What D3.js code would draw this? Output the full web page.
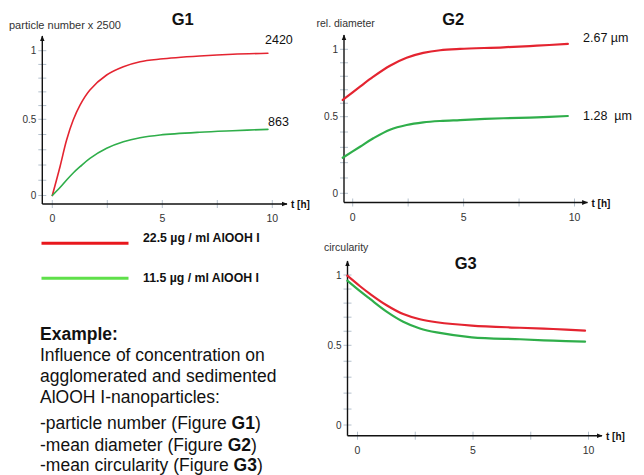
<!DOCTYPE html>
<html>
<head>
<meta charset="utf-8">
<script src="https://cdn.jsdelivr.net/npm/d3@7"></script>
<style>
  body { margin: 0; background: #fff; }
  text { font-family: "Liberation Sans", Arial, sans-serif; }
</style>
</head>
<body>
<div id="chart"></div>
<script>
// ---- data ----
var g1Time  = [0, 0.35, 0.65, 0.95, 1.26, 1.71, 2.47, 3.23, 3.99, 4.9, 6.7, 8.2, 9.8];
var g1Red   = [0, 0.189, 0.364, 0.495, 0.604, 0.714, 0.823, 0.883, 0.920, 0.939, 0.961, 0.974, 0.981];
var g1Green = [0, 0.052, 0.102, 0.148, 0.189, 0.244, 0.310, 0.353, 0.379, 0.397, 0.415, 0.425, 0.434];

var g2Time  = [-0.45, 0.33, 0.93, 1.68, 2.43, 3.18, 3.94, 4.84, 6.8, 8.3, 9.7];
var g2Red   = [0.624, 0.723, 0.797, 0.878, 0.937, 0.973, 0.993, 1.003, 1.015, 1.027, 1.04];
var g2Green = [0.232, 0.304, 0.359, 0.415, 0.446, 0.463, 0.472, 0.478, 0.490, 0.496, 0.505];

var g3Time  = [-0.44, 0.11, 0.54, 1.26, 1.98, 2.7, 3.43, 4.95, 7.03, 8.47, 9.85];
var g3Red   = [0.995, 0.92, 0.866, 0.785, 0.722, 0.685, 0.664, 0.64, 0.625, 0.616, 0.604];
var g3Green = [0.96, 0.885, 0.83, 0.74, 0.668, 0.62, 0.592, 0.557, 0.543, 0.533, 0.526];

var yTickLabels = [0, 0.5, 1];
var yMinorTicks = d3.range(0, 1.001, 0.1);
var xTickLabels = [0, 5, 10];
var xMinorTicks = [0, 2.5, 5, 7.5, 10];

var legendLabels = ["22.5 \u00b5g / ml AlOOH I", "11.5 \u00b5g / ml AlOOH I"];
var g1EndLabels = ["2420", "863"];
var g2EndLabels = ["2.67 \u00b5m", "1.28  \u00b5m"];

var RED = "#e42430", GREEN = "#2fae4a";

var svg = d3.select("#chart").append("svg")
    .attr("width", 644)
    .attr("height", 475);

svg.append("defs").append("marker")
    .attr("id", "arrow")
    .attr("viewBox", "0 0 10 10")
    .attr("refX", 9).attr("refY", 5)
    .attr("markerWidth", 6).attr("markerHeight", 6)
    .attr("markerUnits", "userSpaceOnUse")
    .attr("orient", "auto")
    .append("path")
    .attr("d", "M0,1 L10,5 L0,9 z")
    .attr("fill", "#111");

function drawPanel(p) {
    var x = d3.scaleLinear().domain([0, 10]).range([p.x0, p.x10]);
    var y = d3.scaleLinear().domain([0, 0.5, 1]).range([p.y0, p.y05, p.y1]);
    var g = svg.append("g");

    // minor ticks, drawn across the axis lines
    g.selectAll(".ytick").data(yMinorTicks).enter().append("line")
        .attr("x1", p.ax - 4).attr("x2", p.ax + 4)
        .attr("y1", d => y(d)).attr("y2", d => y(d))
        .attr("stroke", "#b4c0cc").attr("stroke-width", 1);
    g.selectAll(".xtick").data(xMinorTicks).enter().append("line")
        .attr("x1", d => x(d)).attr("x2", d => x(d))
        .attr("y1", p.ay - 4).attr("y2", p.ay + 4)
        .attr("stroke", "#b4c0cc").attr("stroke-width", 1);

    // axes with arrows
    g.append("line")
        .attr("x1", p.ax).attr("y1", p.ay).attr("x2", p.ax).attr("y2", p.yTop)
        .attr("stroke", "#111").attr("stroke-width", 1.4)
        .attr("marker-end", "url(#arrow)");
    g.append("line")
        .attr("x1", p.ax).attr("y1", p.ay).attr("x2", p.xEnd).attr("y2", p.ay)
        .attr("stroke", "#111").attr("stroke-width", 1.4)
        .attr("marker-end", "url(#arrow)");

    g.selectAll(".ylab").data(yTickLabels).enter().append("text")
        .attr("x", p.ax - 6).attr("y", d => y(d) + 3.5)
        .attr("text-anchor", "end")
        .attr("font-size", 10).attr("fill", "#333")
        .text(d => d);
    g.selectAll(".xlab").data(xTickLabels).enter().append("text")
        .attr("x", d => x(d)).attr("y", p.ay + 18)
        .attr("text-anchor", "middle")
        .attr("font-size", 10.5).attr("fill", "#333")
        .text(d => d);
    g.append("text")
        .attr("x", p.xEnd + 4).attr("y", p.ay + 4)
        .attr("font-size", 10).attr("font-weight", "bold").attr("fill", "#111")
        .text("t [h]");

    g.append("text")
        .attr("x", p.yLabelX).attr("y", p.yLabelY)
        .attr("font-size", p.yLabelSize).attr("fill", "#333")
        .text(p.yLabel);
    g.append("text")
        .attr("x", p.titleX).attr("y", p.titleY)
        .attr("text-anchor", "middle")
        .attr("font-size", 16.5).attr("font-weight", "bold").attr("fill", "#111")
        .text(p.title);

    var line = d3.line()
        .x(d => x(d[0]))
        .y(d => y(d[1]))
        .curve(d3.curveCatmullRom.alpha(0.5));

    p.series.forEach(function(s) {
        g.append("path")
            .datum(p.time.map((t, i) => [t, s.values[i]]))
            .attr("d", line)
            .attr("fill", "none")
            .attr("stroke", s.color)
            .attr("stroke-width", p.lw)
            .attr("stroke-linecap", "round");
    });

    (p.endLabels || []).forEach(function(l) {
        g.append("text")
            .attr("x", l.x).attr("y", l.y)
            .attr("font-size", 12.5).attr("fill", "#111")
            .attr("xml:space", "preserve")
            .style("white-space", "pre")
            .text(l.text);
    });
}

drawPanel({
    x0: 52.3, x10: 272.3, y0: 195.5, y05: 119.3, y1: 50.7,
    ax: 42.3, ay: 204, yTop: 36, xEnd: 287,
    yLabel: "particle number x 2500", yLabelX: 9, yLabelY: 28.5, yLabelSize: 11,
    title: "G1", titleX: 182.7, titleY: 25,
    time: g1Time, lw: 1.6,
    series: [{ values: g1Red, color: RED }, { values: g1Green, color: GREEN }],
    endLabels: [{ text: g1EndLabels[0], x: 265, y: 44 }, { text: g1EndLabels[1], x: 268, y: 126 }]
});

drawPanel({
    x0: 352.7, x10: 574.5, y0: 193.3, y05: 116.7, y1: 49.3,
    ax: 344, ay: 202.5, yTop: 35, xEnd: 587.5,
    yLabel: "rel. diameter", yLabelX: 316.5, yLabelY: 27, yLabelSize: 10.5,
    title: "G2", titleX: 453.3, titleY: 24.5,
    time: g2Time, lw: 2.2,
    series: [{ values: g2Red, color: RED }, { values: g2Green, color: GREEN }],
    endLabels: [{ text: g2EndLabels[0], x: 583, y: 42 }, { text: g2EndLabels[1], x: 583, y: 119.5 }]
});

drawPanel({
    x0: 357.5, x10: 588.5, y0: 425, y05: 345.3, y1: 275,
    ax: 347.5, ay: 435.7, yTop: 261, xEnd: 602,
    yLabel: "circularity", yLabelX: 324, yLabelY: 250.5, yLabelSize: 10.5,
    title: "G3", titleX: 465.7, titleY: 268.5,
    time: g3Time, lw: 2.2,
    series: [{ values: g3Red, color: RED }, { values: g3Green, color: GREEN }]
});

// legend
var legendColors = ["#e8171c", "#5fe04a"];
var legendLineY = [243.3, 278.3];
var legendTextY = [241.8, 281.8];
legendLabels.forEach(function(lab, i) {
    svg.append("line")
        .attr("x1", 41.5).attr("x2", 128.5)
        .attr("y1", legendLineY[i]).attr("y2", legendLineY[i])
        .attr("stroke", legendColors[i]).attr("stroke-width", 3);
    svg.append("text")
        .attr("x", 143).attr("y", legendTextY[i])
        .attr("font-size", 12.3).attr("font-weight", "bold").attr("fill", "#111")
        .text(lab);
});

// example text block
var exampleLines = [
    [["Example:", true]],
    [["Influence of concentration on", false]],
    [["agglomerated and sedimented", false]],
    [["AlOOH I-nanoparticles:", false]],
    [["-particle number (Figure ", false], ["G1", true], [")", false]],
    [["-mean diameter (Figure ", false], ["G2", true], [")", false]],
    [["-mean circularity (Figure ", false], ["G3", true], [")", false]]
];
var exampleY = [339.5, 360.5, 381.5, 402.5, 429, 450.5, 470.5];
exampleLines.forEach(function(parts, i) {
    var t = svg.append("text")
        .attr("x", 40).attr("y", exampleY[i])
        .attr("font-size", 17.5).attr("fill", "#111");
    parts.forEach(function(p) {
        t.append("tspan")
            .attr("font-weight", p[1] ? "bold" : "normal")
            .text(p[0]);
    });
});
</script>
</body>
</html>
